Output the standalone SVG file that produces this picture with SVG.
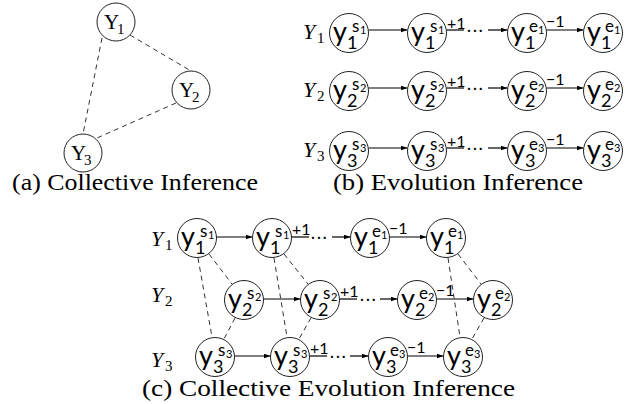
<svg xmlns="http://www.w3.org/2000/svg" width="635" height="404" viewBox="0 0 635 404">
<defs>
<marker id="ah" markerUnits="userSpaceOnUse" markerWidth="8" markerHeight="6" refX="7" refY="2.5" orient="auto">
<path d="M0,0 L7,2.5 L0,5 z" fill="#000"/>
</marker>
<style>
.c{fill:#fff;stroke:#222;stroke-width:1}
.ny{font-family:Lato,"Open Sans",sans-serif;font-size:27px;fill:#000}
.nsub{font-family:Lato,"Open Sans",sans-serif;font-size:18px;fill:#000}
.nsup{font-family:Lato,"Open Sans",sans-serif;font-size:17px;fill:#000}
.nss{font-family:Lato,"Open Sans",sans-serif;font-size:11px;fill:#000}
.ext{font-family:Lato,"Open Sans",sans-serif;font-size:16px;fill:#000}
.dots{font-family:Lato,"Open Sans",sans-serif;font-size:15px;fill:#000;letter-spacing:2px}
.cy{font-family:"Liberation Serif",serif;font-size:21px;fill:#000}
.cys{font-family:"Liberation Serif",serif;font-size:15px;fill:#000}
.rl{font-family:"Liberation Serif",serif;font-size:22px;font-style:italic;fill:#000}
.rls{font-family:"Liberation Serif",serif;font-size:15px;fill:#000}
.cap{font-family:"Liberation Serif",serif;font-size:24px;fill:#000}
.ar{stroke:#000;stroke-width:1.2;fill:none;marker-end:url(#ah)}
.ln{stroke:#000;stroke-width:1.2;fill:none}
.ds{stroke:#333;stroke-width:1;fill:none;stroke-dasharray:5 4}
</style>
</defs>

<!-- connectors -->
<g id="connectors">
<!-- (a) -->
<line class="ds" x1="102" y1="38" x2="83" y2="134"/>
<line class="ds" x1="130" y1="35" x2="191" y2="71"/>
<line class="ds" x1="176" y1="103" x2="97" y2="138"/>
<!-- (b) row 1 -->
<line class="ar" x1="368.5" y1="30" x2="407.5" y2="30"/>
<line class="ln" x1="446.5" y1="30" x2="464" y2="30"/>
<text class="dots" x="467" y="35">···</text>
<line class="ar" x1="488" y1="30" x2="507.5" y2="30"/>
<line class="ar" x1="546.5" y1="30" x2="583.5" y2="30"/>
<!-- (b) row 2 -->
<line class="ar" x1="368.5" y1="88" x2="407.5" y2="88"/>
<line class="ln" x1="446.5" y1="88" x2="464" y2="88"/>
<text class="dots" x="467" y="93">···</text>
<line class="ar" x1="488" y1="88" x2="507.5" y2="88"/>
<line class="ar" x1="546.5" y1="88" x2="583.5" y2="88"/>
<!-- (b) row 3 -->
<line class="ar" x1="368.5" y1="148" x2="407.5" y2="148"/>
<line class="ln" x1="446.5" y1="148" x2="464" y2="148"/>
<text class="dots" x="467" y="153">···</text>
<line class="ar" x1="488" y1="148" x2="507.5" y2="148"/>
<line class="ar" x1="546.5" y1="148" x2="583.5" y2="148"/>
<!-- (c) row 1 -->
<line class="ar" x1="216.5" y1="237" x2="252.5" y2="237"/>
<line class="ln" x1="291.5" y1="237" x2="309" y2="237"/>
<text class="dots" x="311" y="242">···</text>
<line class="ar" x1="332" y1="237" x2="350.5" y2="237"/>
<line class="ar" x1="389.5" y1="237" x2="426.5" y2="237"/>
<!-- (c) row 2 -->
<line class="ar" x1="263.5" y1="299" x2="300.5" y2="299"/>
<line class="ln" x1="339.5" y1="299" x2="357" y2="299"/>
<text class="dots" x="360" y="304">···</text>
<line class="ar" x1="380" y1="299" x2="397.5" y2="299"/>
<line class="ar" x1="436.5" y1="299" x2="473.5" y2="299"/>
<!-- (c) row 3 -->
<line class="ar" x1="234.5" y1="356" x2="270.5" y2="356"/>
<line class="ln" x1="309.5" y1="356" x2="327" y2="356"/>
<text class="dots" x="330" y="361">···</text>
<line class="ar" x1="350" y1="356" x2="368.5" y2="356"/>
<line class="ar" x1="407.5" y1="356" x2="443.5" y2="356"/>
<!-- (c) dashed -->
<line class="ds" x1="198" y1="258" x2="212" y2="337"/>
<line class="ds" x1="209" y1="254" x2="232" y2="284"/>
<line class="ds" x1="235" y1="318" x2="224" y2="339"/>
<line class="ds" x1="274" y1="258" x2="287" y2="337"/>
<line class="ds" x1="284" y1="254" x2="308" y2="284"/>
<line class="ds" x1="311" y1="318" x2="299" y2="339"/>
<line class="ds" x1="448" y1="258" x2="460" y2="337"/>
<line class="ds" x1="458" y1="254" x2="481" y2="284"/>
<line class="ds" x1="484" y1="318" x2="472" y2="339"/>
</g>

<!-- (a) nodes -->
<g id="a-Y1" transform="translate(116,22)"><circle class="c" r="19"/><text class="cy" x="-12" y="7">Y</text><text class="cys" x="1" y="12">1</text></g>
<g id="a-Y2" transform="translate(191,90)"><circle class="c" r="19"/><text class="cy" x="-12" y="7">Y</text><text class="cys" x="1" y="12">2</text></g>
<g id="a-Y3" transform="translate(83,153)"><circle class="c" r="19"/><text class="cy" x="-12" y="7">Y</text><text class="cys" x="1" y="12">3</text></g>

<!-- (b) row labels -->
<g id="b-label-Y1"><text class="rl" x="303" y="39">Y</text><text class="rls" x="317" y="43">1</text></g>
<g id="b-label-Y2"><text class="rl" x="303" y="97">Y</text><text class="rls" x="317" y="101">2</text></g>
<g id="b-label-Y3"><text class="rl" x="303" y="157">Y</text><text class="rls" x="317" y="161">3</text></g>

<!-- (b) nodes row 1 -->
<g id="b-n11" transform="translate(349,33)"><circle class="c" r="19.5"/><text class="ny" x="-16" y="8">y</text><text class="nsub" x="-2" y="16">1</text><text class="nsup" x="3" y="-1">s</text><text class="nss" x="11" y="1">1</text></g>
<g id="b-n12" transform="translate(427,33)"><circle class="c" r="19.5"/><text class="ny" x="-16" y="8">y</text><text class="nsub" x="-2" y="16">1</text><text class="nsup" x="3" y="-1">s</text><text class="nss" x="11" y="1">1</text><text class="ext" x="20" y="-4">+1</text></g>
<g id="b-n13" transform="translate(527,33)"><circle class="c" r="19.5"/><text class="ny" x="-16" y="8">y</text><text class="nsub" x="-2" y="16">1</text><text class="nsup" x="2" y="-1">e</text><text class="nss" x="11" y="1">1</text><text class="ext" x="19" y="-6">−1</text></g>
<g id="b-n14" transform="translate(603,33)"><circle class="c" r="19.5"/><text class="ny" x="-16" y="8">y</text><text class="nsub" x="-2" y="16">1</text><text class="nsup" x="2" y="-1">e</text><text class="nss" x="11" y="1">1</text></g>
<!-- (b) nodes row 2 -->
<g id="b-n21" transform="translate(349,91)"><circle class="c" r="19.5"/><text class="ny" x="-16" y="8">y</text><text class="nsub" x="-2" y="16">2</text><text class="nsup" x="3" y="-1">s</text><text class="nss" x="11" y="1">2</text></g>
<g id="b-n22" transform="translate(427,91)"><circle class="c" r="19.5"/><text class="ny" x="-16" y="8">y</text><text class="nsub" x="-2" y="16">2</text><text class="nsup" x="3" y="-1">s</text><text class="nss" x="11" y="1">2</text><text class="ext" x="20" y="-4">+1</text></g>
<g id="b-n23" transform="translate(527,91)"><circle class="c" r="19.5"/><text class="ny" x="-16" y="8">y</text><text class="nsub" x="-2" y="16">2</text><text class="nsup" x="2" y="-1">e</text><text class="nss" x="11" y="1">2</text><text class="ext" x="19" y="-6">−1</text></g>
<g id="b-n24" transform="translate(603,91)"><circle class="c" r="19.5"/><text class="ny" x="-16" y="8">y</text><text class="nsub" x="-2" y="16">2</text><text class="nsup" x="2" y="-1">e</text><text class="nss" x="11" y="1">2</text></g>
<!-- (b) nodes row 3 -->
<g id="b-n31" transform="translate(349,151)"><circle class="c" r="19.5"/><text class="ny" x="-16" y="8">y</text><text class="nsub" x="-2" y="16">3</text><text class="nsup" x="3" y="-1">s</text><text class="nss" x="11" y="1">3</text></g>
<g id="b-n32" transform="translate(427,151)"><circle class="c" r="19.5"/><text class="ny" x="-16" y="8">y</text><text class="nsub" x="-2" y="16">3</text><text class="nsup" x="3" y="-1">s</text><text class="nss" x="11" y="1">3</text><text class="ext" x="20" y="-4">+1</text></g>
<g id="b-n33" transform="translate(527,151)"><circle class="c" r="19.5"/><text class="ny" x="-16" y="8">y</text><text class="nsub" x="-2" y="16">3</text><text class="nsup" x="2" y="-1">e</text><text class="nss" x="11" y="1">3</text><text class="ext" x="19" y="-6">−1</text></g>
<g id="b-n34" transform="translate(603,151)"><circle class="c" r="19.5"/><text class="ny" x="-16" y="8">y</text><text class="nsub" x="-2" y="16">3</text><text class="nsup" x="2" y="-1">e</text><text class="nss" x="11" y="1">3</text></g>

<!-- (c) row labels -->
<g id="c-label-Y1"><text class="rl" x="151" y="246">Y</text><text class="rls" x="165" y="250">1</text></g>
<g id="c-label-Y2"><text class="rl" x="151" y="302">Y</text><text class="rls" x="165" y="306">2</text></g>
<g id="c-label-Y3"><text class="rl" x="151" y="367">Y</text><text class="rls" x="165" y="371">3</text></g>

<!-- (c) nodes row 1 -->
<g id="c-n11" transform="translate(197,238)"><circle class="c" r="19.5"/><text class="ny" x="-16" y="8">y</text><text class="nsub" x="-2" y="16">1</text><text class="nsup" x="3" y="-1">s</text><text class="nss" x="11" y="1">1</text></g>
<g id="c-n12" transform="translate(272,238)"><circle class="c" r="19.5"/><text class="ny" x="-16" y="8">y</text><text class="nsub" x="-2" y="16">1</text><text class="nsup" x="3" y="-1">s</text><text class="nss" x="11" y="1">1</text><text class="ext" x="20" y="-3">+1</text></g>
<g id="c-n13" transform="translate(370,238)"><circle class="c" r="19.5"/><text class="ny" x="-16" y="8">y</text><text class="nsub" x="-2" y="16">1</text><text class="nsup" x="2" y="-1">e</text><text class="nss" x="11" y="1">1</text><text class="ext" x="19" y="-4">−1</text></g>
<g id="c-n14" transform="translate(446,238)"><circle class="c" r="19.5"/><text class="ny" x="-16" y="8">y</text><text class="nsub" x="-2" y="16">1</text><text class="nsup" x="2" y="-1">e</text><text class="nss" x="11" y="1">1</text></g>
<!-- (c) nodes row 2 -->
<g id="c-n21" transform="translate(244,300)"><circle class="c" r="19.5"/><text class="ny" x="-16" y="8">y</text><text class="nsub" x="-2" y="16">2</text><text class="nsup" x="3" y="-1">s</text><text class="nss" x="11" y="1">2</text></g>
<g id="c-n22" transform="translate(320,300)"><circle class="c" r="19.5"/><text class="ny" x="-16" y="8">y</text><text class="nsub" x="-2" y="16">2</text><text class="nsup" x="3" y="-1">s</text><text class="nss" x="11" y="1">2</text><text class="ext" x="20" y="-3">+1</text></g>
<g id="c-n23" transform="translate(417,300)"><circle class="c" r="19.5"/><text class="ny" x="-16" y="8">y</text><text class="nsub" x="-2" y="16">2</text><text class="nsup" x="2" y="-1">e</text><text class="nss" x="11" y="1">2</text><text class="ext" x="19" y="-4">−1</text></g>
<g id="c-n24" transform="translate(493,300)"><circle class="c" r="19.5"/><text class="ny" x="-16" y="8">y</text><text class="nsub" x="-2" y="16">2</text><text class="nsup" x="2" y="-1">e</text><text class="nss" x="11" y="1">2</text></g>
<!-- (c) nodes row 3 -->
<g id="c-n31" transform="translate(215,357)"><circle class="c" r="19.5"/><text class="ny" x="-16" y="8">y</text><text class="nsub" x="-2" y="16">3</text><text class="nsup" x="3" y="-1">s</text><text class="nss" x="11" y="1">3</text></g>
<g id="c-n32" transform="translate(290,357)"><circle class="c" r="19.5"/><text class="ny" x="-16" y="8">y</text><text class="nsub" x="-2" y="16">3</text><text class="nsup" x="3" y="-1">s</text><text class="nss" x="11" y="1">3</text><text class="ext" x="20" y="-3">+1</text></g>
<g id="c-n33" transform="translate(388,357)"><circle class="c" r="19.5"/><text class="ny" x="-16" y="8">y</text><text class="nsub" x="-2" y="16">3</text><text class="nsup" x="2" y="-1">e</text><text class="nss" x="11" y="1">3</text><text class="ext" x="19" y="-4">−1</text></g>
<g id="c-n34" transform="translate(463,357)"><circle class="c" r="19.5"/><text class="ny" x="-16" y="8">y</text><text class="nsub" x="-2" y="16">3</text><text class="nsup" x="2" y="-1">e</text><text class="nss" x="11" y="1">3</text></g>

<!-- captions -->
<g id="captions">
<text class="cap" x="12" y="190" textLength="246" lengthAdjust="spacingAndGlyphs">(a) Collective Inference</text>
<text class="cap" x="333" y="190" textLength="250" lengthAdjust="spacingAndGlyphs">(b) Evolution Inference</text>
<text class="cap" x="142" y="396" textLength="373" lengthAdjust="spacingAndGlyphs">(c) Collective Evolution Inference</text>
</g>
</svg>
